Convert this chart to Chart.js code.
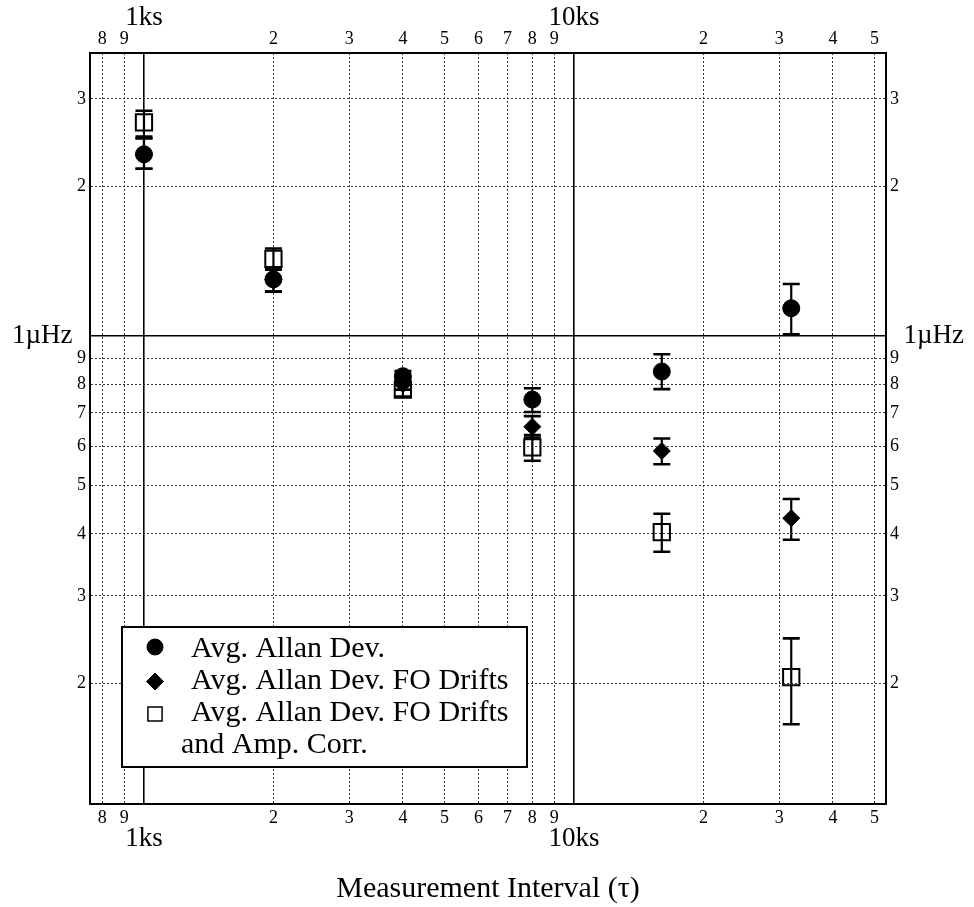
<!DOCTYPE html>
<html>
<head>
<meta charset="utf-8">
<script src="https://cdn.jsdelivr.net/npm/chart.js@4.4.1/dist/chart.umd.min.js"></script>
<style>
  html, body { margin: 0; padding: 0; background: #fff; }
  #wrap { width: 974px; height: 907px; }
</style>
</head>
<body>
<div id="wrap"><canvas id="c" width="974" height="907"></canvas></div>
<script>
// ---- data (tau in seconds, deviations in µHz) ----
const tauSeconds   = [1000, 2000, 4000, 8000, 16000, 32000];
const allanDev     = [2.32, 1.30, 0.83, 0.745, 0.848, 1.137];
const allanDevLow  = [2.17, 1.228, 0.81, 0.703, 0.782, 1.008];
const allanDevHigh = [2.50, 1.372, 0.85, 0.785, 0.919, 1.272];
const foDrift      = [2.32, 1.30, 0.80, 0.657, 0.587, 0.430];
const foDriftLow   = [2.17, 1.228, 0.78, 0.625, 0.552, 0.389];
const foDriftHigh  = [2.50, 1.372, 0.82, 0.690, 0.622, 0.470];
const ampCorr      = [2.69, 1.43, 0.78, 0.597, 0.403, 0.206];
const ampCorrLow   = [2.52, 1.36, 0.755, 0.561, 0.368, 0.1655];
const ampCorrHigh  = [2.84, 1.50, 0.80, 0.632, 0.439, 0.2464];
const seriesLabels = ['Avg. Allan Dev.', 'Avg. Allan Dev. FO Drifts', 'Avg. Allan Dev. FO Drifts\nand Amp. Corr.'];

const xTickValues  = [800, 900, 1000, 2000, 3000, 4000, 5000, 6000, 7000, 8000, 9000, 10000, 20000, 30000, 40000, 50000];
const xTickLabels  = ['8', '9', '1ks', '2', '3', '4', '5', '6', '7', '8', '9', '10ks', '2', '3', '4', '5'];
const xMajorValues = [1000, 10000];
const yTickValues  = [0.2, 0.3, 0.4, 0.5, 0.6, 0.7, 0.8, 0.9, 1, 2, 3];
const yTickLabels  = ['2', '3', '4', '5', '6', '7', '8', '9', '1µHz', '2', '3'];
const yMajorValues = [1];
const xRange = [749, 53150];
const yRange = [0.1144, 3.71];

// ---- styling ----
const FAMILY = "'Liberation Serif', 'Times New Roman', serif";
const fontMinor  = { family: FAMILY, size: 18, lineHeight: 1.2 };
const fontMajorX = { family: FAMILY, size: 27, lineHeight: 0.8 };
const fontMajorY = { family: FAMILY, size: 27, lineHeight: 1.2 };
const isMajor = c => !!(c && c.tick && c.tick.major);

function makeTicks(values, majors) {
  return values.map(v => ({ value: v, major: majors.includes(v) }));
}
function gridOpts(onArea) {
  return {
    display: true, drawOnChartArea: onArea, drawTicks: false,
    color: c => isMajor(c) ? '#000' : '#333',
    lineWidth: c => isMajor(c) ? 1.6 : 1
  };
}
const borderOpts = { display: true, color: '#000', width: 2, dash: c => isMajor(c) ? [] : [2, 2] };

function xScale(pos) {
  return {
    type: 'logarithmic', position: pos, min: xRange[0], max: xRange[1],
    afterBuildTicks: s => { s.ticks = makeTicks(xTickValues, xMajorValues); },
    afterFit: s => { s.height = pos === 'bottom' ? 103 : 53; },
    ticks: {
      autoSkip: false, maxRotation: 0, minRotation: 0, padding: 3, color: '#000',
      font: c => isMajor(c) ? fontMajorX : fontMinor,
      callback: (v, i) => xMajorValues.includes(xTickValues[i])
        ? (pos === 'bottom' ? ['', xTickLabels[i]] : [xTickLabels[i], ''])
        : xTickLabels[i]
    },
    grid: gridOpts(pos === 'bottom'),
    border: borderOpts,
    title: pos === 'bottom' ? {
      display: true, text: 'Measurement Interval (τ)', color: '#000',
      font: { family: FAMILY, size: 30, lineHeight: 1.2 }, padding: { top: 0, bottom: 0 }
    } : { display: false }
  };
}
function yScale(pos) {
  return {
    type: 'logarithmic', position: pos, min: yRange[0], max: yRange[1],
    afterBuildTicks: s => { s.ticks = makeTicks(yTickValues, yMajorValues); },
    afterFit: s => { s.width = pos === 'left' ? 90 : 88; },
    ticks: {
      autoSkip: false, padding: 4, color: '#000',
      font: c => isMajor(c) ? fontMajorY : fontMinor,
      callback: (v, i) => yMajorValues.includes(yTickValues[i])
        ? (pos === 'left' ? yTickLabels[i] + '  ' : '  ' + yTickLabels[i])
        : yTickLabels[i]
    },
    grid: gridOpts(pos === 'left'),
    border: borderOpts
  };
}

// ---- plugins ----
const errorBarPlugin = {
  id: 'errorBars',
  afterDatasetsDraw(chart, args, opts) {
    const ctx = chart.ctx;
    const xs = chart.scales.x, ys = chart.scales.y;
    ctx.save();
    ctx.strokeStyle = '#000';
    chart.data.datasets.forEach((ds, di) => {
      if (!chart.isDatasetVisible(di)) return;
      ds.data.forEach((p, i) => {
        const x = xs.getPixelForValue(p.x);
        const yl = ys.getPixelForValue(ds.errLow[i]);
        const yh = ys.getPixelForValue(ds.errHigh[i]);
        ctx.lineWidth = opts.lineWidth;
        ctx.beginPath(); ctx.moveTo(x, yl); ctx.lineTo(x, yh); ctx.stroke();
        ctx.lineWidth = opts.capWidth;
        ctx.beginPath();
        ctx.moveTo(x - opts.capHalf, yl); ctx.lineTo(x + opts.capHalf, yl);
        ctx.moveTo(x - opts.capHalf, yh); ctx.lineTo(x + opts.capHalf, yh);
        ctx.stroke();
      });
    });
    ctx.restore();
  }
};

const boxLegendPlugin = {
  id: 'boxLegend',
  afterDraw(chart, args, o) {
    const ctx = chart.ctx;
    ctx.save();
    ctx.fillStyle = '#fff';
    ctx.fillRect(o.left, o.top, o.width, o.height);
    ctx.lineWidth = 2; ctx.strokeStyle = '#000';
    ctx.strokeRect(o.left, o.top, o.width, o.height);
    ctx.font = o.fontSize + 'px ' + FAMILY;
    ctx.textAlign = 'left'; ctx.textBaseline = 'alphabetic';
    let row = 0;
    chart.data.datasets.forEach((ds, di) => {
      const base = o.firstBaseline + row * o.rowStep;
      const m = o.markers[di];
      ctx.fillStyle = m.fill; ctx.strokeStyle = '#000'; ctx.lineWidth = m.borderWidth;
      Chart.helpers.drawPoint(ctx, { pointStyle: ds.pointStyle, radius: m.radius, borderWidth: m.borderWidth, rotation: 0 },
        o.markerX, base + m.dy);
      ctx.fillStyle = '#000';
      const lines = ds.label.split('\n');
      lines.forEach((ln, li) => {
        ctx.fillText(ln, li === 0 ? o.textX : o.wrapX, o.firstBaseline + (row + li) * o.rowStep);
      });
      row += lines.length;
    });
    ctx.restore();
  }
};

function pts(ys) { return tauSeconds.map((t, i) => ({ x: t, y: ys[i] })); }

new Chart(document.getElementById('c'), {
  type: 'scatter',
  data: {
    datasets: [
      { label: seriesLabels[0], data: pts(allanDev), errLow: allanDevLow, errHigh: allanDevHigh,
        pointStyle: 'circle', pointRadius: 8.5, pointBorderWidth: 1,
        pointBackgroundColor: '#000', pointBorderColor: '#000', showLine: false },
      { label: seriesLabels[1], data: pts(foDrift), errLow: foDriftLow, errHigh: foDriftHigh,
        pointStyle: 'rectRot', pointRadius: 8.5, pointBorderWidth: 1,
        pointBackgroundColor: '#000', pointBorderColor: '#000', showLine: false },
      { label: seriesLabels[2], data: pts(ampCorr), errLow: ampCorrLow, errHigh: ampCorrHigh,
        pointStyle: 'rect', pointRadius: 11.5, pointBorderWidth: 2,
        pointBackgroundColor: 'rgba(0,0,0,0)', pointBorderColor: '#000', showLine: false }
    ]
  },
  options: {
    responsive: false, animation: false, events: [],
    devicePixelRatio: 1,
    layout: { padding: 0 },
    scales: { x: xScale('bottom'), x2: xScale('top'), y: yScale('left'), y2: yScale('right') },
    plugins: {
      legend: { display: false },
      tooltip: { enabled: false },
      errorBars: { lineWidth: 2.2, capWidth: 2.6, capHalf: 8.5 },
      boxLegend: {
        left: 122, top: 627, width: 405, height: 140,
        fontSize: 30, firstBaseline: 656.5, rowStep: 32,
        markerX: 155, textX: 191, wrapX: 181,
        markers: [
          { radius: 8, borderWidth: 1, fill: '#000', dy: -9.5 },
          { radius: 8.5, borderWidth: 1, fill: '#000', dy: -7 },
          { radius: 10, borderWidth: 1.5, fill: '#fff', dy: -6.5 }
        ]
      }
    }
  },
  plugins: [errorBarPlugin, boxLegendPlugin]
});
</script>
</body>
</html>
